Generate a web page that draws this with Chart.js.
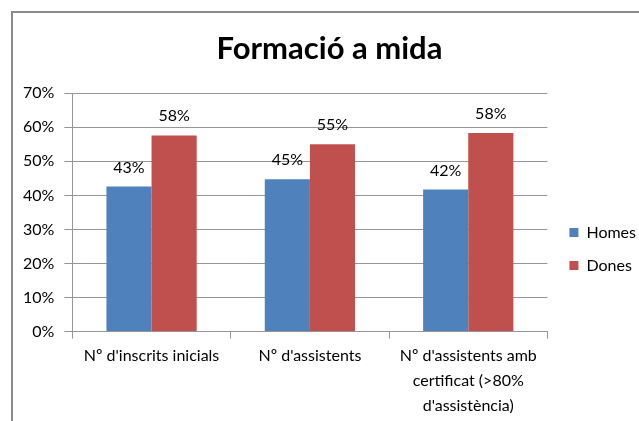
<!DOCTYPE html>
<html>
<head>
<meta charset="utf-8">
<script src="https://cdn.jsdelivr.net/npm/chart.js@4.4.0/dist/chart.umd.min.js"></script>
<style>
    html, body { margin: 0; padding: 0; background: #fff; overflow: hidden; width: 639px; height: 421px; }
    #marc { position: absolute; left: 11px; top: 11px; width: 700px; height: 500px; border-left: 2px solid #8c8c8c; border-top: 2px solid #8c8c8c; }
    #grafic { position: absolute; left: 13px; top: 13px; }
</style>
</head>
<body>
<div id="marc"></div>
<canvas id="grafic" width="643" height="473"></canvas>
<script>
// Dades del gràfic
const categories = [
    "Nº d'inscrits inicials",
    "Nº d'assistents",
    ["Nº d'assistents amb", "certificat (>80%", "d'assistència)"]
];
const homes = [42.6, 44.7, 41.7];
const dones = [57.6, 55.0, 58.3];
const titol = 'Formació a mida';

const colors = {
    homes: '#4F81BD',
    dones: '#C0504D',
    reixa: '#969696'
};

const font = 'Lato';

// Etiquetes de valor damunt de cada barra
const etiquetesValor = {
    id: 'etiquetesValor',
    afterDatasetsDraw(chart) {
        const ctx = chart.ctx;
        ctx.save();
        ctx.font = `16px ${font}`;
        ctx.fillStyle = '#000';
        ctx.textAlign = 'center';
        ctx.textBaseline = 'alphabetic';
        chart.data.datasets.forEach((ds, i) => {
            chart.getDatasetMeta(i).data.forEach((bar, j) => {
                ctx.fillText(Math.round(ds.data[j]) + '%', bar.x, bar.y - 14);
            });
        });
        ctx.restore();
    }
};

new Chart(document.getElementById('grafic'), {
    type: 'bar',
    data: {
        labels: categories,
        datasets: [
            { label: 'Homes', data: homes, backgroundColor: colors.homes, categoryPercentage: 0.57, barPercentage: 1.0 },
            { label: 'Dones', data: dones, backgroundColor: colors.dones, categoryPercentage: 0.57, barPercentage: 1.0 }
        ]
    },
    options: {
        responsive: false,
        animation: false,
        layout: { padding: { left: 0, right: 10, top: 17, bottom: 63 } },
        plugins: {
            title: {
                display: true,
                text: titol,
                color: '#000',
                font: { family: font, size: 31, weight: 'bold' },
                padding: { top: 0, bottom: 26 }
            },
            legend: {
                position: 'right',
                title: { display: true, text: ' ', font: { family: font, size: 15 }, padding: { top: 0, bottom: 27 } },
                labels: {
                    color: '#000',
                    font: { family: font, size: 16 },
                    boxWidth: 9,
                    boxHeight: 9,
                    padding: 17
                }
            },
            tooltip: { enabled: false }
        },
        scales: {
            x: {
                grid: { offset: true, drawOnChartArea: false, drawTicks: true, tickLength: 7, color: colors.reixa },
                border: { color: colors.reixa },
                ticks: { color: '#000', font: { family: font, size: 16, lineHeight: 1.55 }, padding: 5, maxRotation: 0 }
            },
            y: {
                min: 0,
                max: 70,
                grid: { color: colors.reixa, tickLength: 8 },
                border: { color: colors.reixa },
                ticks: {
                    stepSize: 10,
                    color: '#000',
                    font: { family: font, size: 16 },
                    padding: 10,
                    callback: v => v + '%'
                }
            },
            // marge buit entre l'àrea del gràfic i la llegenda
            marge: {
                position: 'right',
                grid: { display: false },
                border: { display: false },
                ticks: { display: false },
                afterFit: s => { s.width = 5; }
            }
        }
    },
    plugins: [etiquetesValor]
});
</script>
</body>
</html>
